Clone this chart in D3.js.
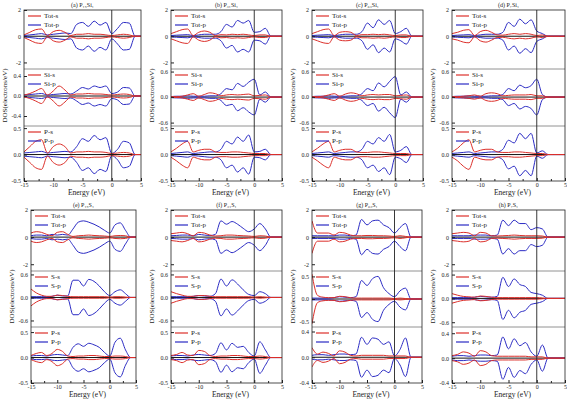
<!DOCTYPE html>
<html>
<head>
<meta charset="utf-8">
<script src="https://cdn.jsdelivr.net/npm/d3@7"></script>
<style>
  body { margin: 0; background: #fff; }
  text { font-family: "Liberation Serif", "Times New Roman", serif; fill: #222; }
</style>
</head>
<body>
<div class="chartContainer"></div>
<script>
// energy grid (eV)
var energy = [-15,-14,-13,-12,-11,-10,-9,-8,-7,-6,-5,-4,-3,-2,-1,0,1,2,3,4,5];

var panelTitles = ['(a) P\u2081\u2085Si\u2081','(b) P\u2083\u2081Si\u2081','(c) P\u2086\u2083Si\u2081','(d) P\u2087Si\u2081',
                   '(e) P\u2081\u2085S\u2081','(f) P\u2083\u2081S\u2081','(g) P\u2086\u2083S\u2081','(h) P\u2087S\u2081'];
var dopant = ['Si','Si','Si','Si','S','S','S','S'];

// total DOS, s and p (one row per panel a..h)
var totS = [
  [0.1,0.3,0.5,0.55,0.05,0.35,0.45,0.3,0.05,0.15,0.15,0.2,0.15,0.15,0.1,0.05,0.1,0.15,0.1,0,0],
  [0.2,0.35,0.5,0.55,0.05,0.3,0.4,0.3,0.05,0.12,0.1,0.15,0.12,0.15,0.1,0.05,0.1,0.1,0,0,0],
  [0.2,0.35,0.5,0.55,0.05,0.3,0.35,0.3,0.05,0.12,0.12,0.15,0.12,0.15,0.1,0.05,0.1,0.1,0,0,0],
  [0.2,0.3,0.45,0.5,0.05,0.35,0.45,0.3,0.1,0.08,0.15,0.2,0.15,0.2,0.15,0.05,0.1,0,0,0,0],
  [0.3,0.4,0.35,0.2,0.1,0.35,0.4,0.2,0.05,0.1,0.12,0.15,0.12,0.1,0.08,0.05,0.1,0.12,0.1,0,0],
  [0.25,0.3,0.35,0.25,0.1,0.35,0.3,0.15,0.08,0.1,0.15,0.15,0.12,0.1,0.08,0.05,0.1,0.08,0,0,0],
  [1.2,0.3,0.3,0.3,0.15,0.35,0.3,0.15,0.1,0.1,0.12,0.12,0.1,0.1,0.08,0.05,0.1,0.05,0,0,0],
  [0.25,0.3,0.35,0.3,0.1,0.35,0.3,0.1,0.08,0.1,0.12,0.15,0.12,0.1,0.1,0.1,0.08,0,0,0,0]
];
var totP = [
  [0.05,0.1,0.15,0.2,0.1,0.15,0.2,0.25,0.2,0.9,1.05,0.75,1.15,0.85,1.05,0.2,0.6,1.05,1.0,0,0],
  [0.05,0.08,0.1,0.12,0.05,0.1,0.15,0.15,0.15,0.35,0.9,0.7,1.2,1.0,1.2,0.3,0.35,0.6,0,0,0],
  [0.05,0.08,0.1,0.12,0.05,0.1,0.15,0.15,0.15,0.35,1.0,0.65,1.25,0.9,1.2,0.2,0.35,0.6,0,0,0],
  [0.05,0.08,0.1,0.12,0.05,0.1,0.15,0.15,0.15,0.3,1.05,0.75,1.3,0.95,1.25,0.4,0.2,0,0,0,0],
  [0.1,0.15,0.15,0.1,0.2,0.15,0.2,0.15,0.6,1.1,1.2,1.1,0.95,0.75,0.5,0.3,0.9,1.05,0.5,0,0],
  [0.1,0.12,0.15,0.15,0.1,0.2,0.15,0.12,0.2,1.2,0.95,1.15,0.95,0.65,0.4,0.6,1.0,0.6,0,0,0],
  [0.1,0.1,0.1,0.1,0.1,0.15,0.15,0.1,0.15,1.3,0.9,1.2,1.25,0.9,0.7,0.3,0.7,1.0,0,0,0],
  [0.1,0.1,0.1,0.1,0.15,0.15,0.15,0.1,0.15,1.25,0.85,1.25,1.0,1.0,0.55,0.7,0.6,0,0,0,0]
];
// dopant atom (Si or S), s and p
var dopS = [
  [0.02,0.05,0.1,0.15,0.02,0.1,0.2,0.12,0.02,0.04,0.04,0.05,0.04,0.04,0.03,0.02,0.03,0.04,0.03,0,0],
  [0.01,0.01,0.02,0.05,0.08,0.02,0.06,0.1,0.08,0.03,0.05,0.06,0.05,0.06,0.07,0.03,0.04,0.05,0,0,0],
  [0.01,0.01,0.02,0.05,0.08,0.02,0.07,0.1,0.08,0.03,0.05,0.06,0.05,0.06,0.06,0.03,0.04,0.05,0,0,0],
  [0.01,0.01,0.02,0.03,0.05,0.02,0.08,0.1,0.08,0.03,0.04,0.05,0.05,0.05,0.06,0.03,0.03,0,0,0,0],
  [0.22,0.12,0.06,0.03,0.03,0.06,0.05,0.03,0.02,0.02,0.02,0.02,0.02,0.02,0.02,0.01,0.02,0.02,0.01,0,0],
  [0.15,0.1,0.06,0.03,0.03,0.05,0.05,0.03,0.02,0.02,0.02,0.02,0.02,0.02,0.02,0.01,0.02,0.01,0,0,0],
  [0.55,0.08,0.04,0.03,0.03,0.06,0.05,0.03,0.02,0.02,0.02,0.02,0.02,0.02,0.02,0.01,0.02,0.01,0,0,0],
  [0.12,0.08,0.05,0.04,0.03,0.06,0.05,0.03,0.02,0.02,0.02,0.02,0.02,0.02,0.02,0.02,0.01,0,0,0,0]
];
var dopP = [
  [0.02,0.03,0.04,0.05,0.02,0.03,0.04,0.05,0.04,0.1,0.17,0.14,0.2,0.17,0.2,0.05,0.08,0.17,0.16,0,0],
  [0.01,0.02,0.02,0.03,0.02,0.02,0.02,0.03,0.03,0.08,0.2,0.17,0.32,0.25,0.35,0.42,0.05,0.12,0,0,0],
  [0.01,0.02,0.02,0.03,0.02,0.02,0.02,0.03,0.03,0.08,0.2,0.15,0.33,0.24,0.37,0.48,0.05,0.12,0,0,0],
  [0.01,0.02,0.02,0.03,0.02,0.02,0.02,0.03,0.03,0.06,0.2,0.15,0.28,0.22,0.27,0.42,0.06,0,0,0,0],
  [0.02,0.02,0.02,0.02,0.03,0.06,0.04,0.04,0.45,0.45,0.3,0.47,0.42,0.3,0.15,0.05,0.15,0.2,0.1,0,0],
  [0.02,0.02,0.02,0.02,0.03,0.05,0.04,0.03,0.1,0.48,0.3,0.46,0.35,0.2,0.08,0.05,0.15,0.1,0,0,0],
  [0.02,0.02,0.02,0.02,0.03,0.05,0.04,0.03,0.05,0.41,0.3,0.45,0.5,0.25,0.12,0.05,0.18,0.24,0,0,0],
  [0.02,0.02,0.02,0.02,0.03,0.05,0.04,0.03,0.05,0.53,0.3,0.49,0.35,0.3,0.15,0.12,0.08,0,0,0,0]
];
// phosphorus atom, s and p
var phS = [
  [0.05,0.15,0.25,0.28,0.03,0.15,0.2,0.15,0.03,0.05,0.05,0.06,0.05,0.05,0.04,0.02,0.03,0.04,0.03,0,0],
  [0.05,0.12,0.2,0.25,0.05,0.08,0.1,0.1,0.05,0.04,0.04,0.05,0.05,0.04,0.03,0.02,0.02,0.02,0,0,0],
  [0.05,0.12,0.2,0.25,0.05,0.08,0.1,0.1,0.05,0.04,0.04,0.05,0.05,0.04,0.03,0.02,0.02,0.02,0,0,0],
  [0.05,0.12,0.22,0.28,0.05,0.08,0.1,0.1,0.05,0.04,0.04,0.05,0.05,0.04,0.03,0.02,0.02,0,0,0,0],
  [0.04,0.08,0.1,0.04,0.08,0.16,0.12,0.03,0.02,0.03,0.03,0.04,0.04,0.03,0.02,0.02,0.03,0.03,0.02,0,0],
  [0.04,0.06,0.1,0.05,0.04,0.14,0.12,0.04,0.02,0.03,0.03,0.04,0.04,0.03,0.02,0.02,0.03,0.02,0,0,0],
  [0.15,0.05,0.08,0.06,0.02,0.1,0.08,0.03,0.02,0.03,0.03,0.03,0.03,0.03,0.02,0.02,0.02,0.02,0,0,0],
  [0.04,0.06,0.1,0.08,0.03,0.12,0.1,0.04,0.03,0.03,0.03,0.03,0.03,0.03,0.02,0.02,0.02,0,0,0,0]
];
var phP = [
  [0.03,0.04,0.05,0.06,0.03,0.04,0.05,0.06,0.05,0.15,0.3,0.25,0.36,0.28,0.32,0.02,0.1,0.25,0.22,0,0],
  [0.02,0.03,0.04,0.05,0.02,0.03,0.04,0.05,0.05,0.1,0.25,0.2,0.33,0.25,0.37,0.05,0.06,0.1,0,0,0],
  [0.02,0.03,0.04,0.05,0.02,0.03,0.04,0.05,0.05,0.1,0.25,0.2,0.32,0.25,0.38,0.05,0.08,0.15,0,0,0],
  [0.02,0.03,0.04,0.05,0.02,0.03,0.04,0.05,0.05,0.1,0.27,0.22,0.4,0.3,0.4,0.03,0.07,0,0,0,0],
  [0.03,0.04,0.04,0.03,0.05,0.06,0.05,0.04,0.2,0.27,0.22,0.28,0.25,0.2,0.1,0.03,0.3,0.38,0.15,0,0],
  [0.03,0.04,0.04,0.03,0.05,0.06,0.05,0.04,0.08,0.29,0.15,0.28,0.2,0.22,0.1,0.03,0.31,0.15,0,0,0],
  [0.03,0.04,0.04,0.03,0.04,0.05,0.05,0.04,0.05,0.31,0.2,0.3,0.28,0.2,0.24,0.02,0.12,0.3,0,0,0],
  [0.03,0.04,0.04,0.03,0.04,0.05,0.05,0.04,0.05,0.34,0.15,0.31,0.2,0.25,0.1,0.03,0.21,0,0,0,0]
];

// y ticks of each sub-panel
var topTicks = [-2, 0, 2];
var midTicks = [[-0.4,0,0.4],[-0.6,0,0.6],[-0.6,0,0.6],[-0.6,0,0.6],[-0.6,0,0.6],[-0.6,0,0.6],[-0.5,0,0.5],[-0.6,0,0.6]];
var botTicks = [[-0.5,0,0.5],[-0.5,0,0.5],[-0.5,0,0.5],[-0.5,0,0.5],[-0.5,0,0.5],[-0.5,0,0.5],[-0.4,0,0.4],[-0.4,0,0.4]];
var xTicks = [-15, -10, -5, 0, 5];
var xMinor = [-12.5, -7.5, -2.5, 2.5];

// y ranges of each sub-panel
var topDomain = [-2.5, 2];
var midDomain = [[-0.6,0.54],[-0.68,0.66],[-0.68,0.66],[-0.68,0.66],[-0.77,0.69],[-0.77,0.69],[-0.62,0.62],[-0.72,0.69]];
var botDomain = [[-0.5,0.54],[-0.5,0.54],[-0.5,0.54],[-0.5,0.54],[-0.5,0.6],[-0.5,0.6],[-0.4,0.47],[-0.4,0.5]];

const red = '#dc2f2a';
const blue = '#2b2bc4';
const tickFont = 6;

const width = 567, height = 399;
// panel boxes
const colX = [[[24,141],[171,282],[312,423],[452,565]], [[31,136],[171,282],[312,422],[452,565]]];
const rowY = [[10,69,126,181], [210,271,327,383]];

const svg = d3.select('.chartContainer').append('svg')
  .attr('width', width).attr('height', height);

function drawPanel(i) {
  const r = Math.floor(i / 4), c = i % 4;
  const x0 = colX[r][c][0], x1 = colX[r][c][1];
  const ys = rowY[r];
  const g = svg.append('g');

  const xScale = d3.scaleLinear().domain([-15, 5]).range([x0, x1]);

  const subs = [
    {dom: topDomain, ticks: topTicks, s: totS[i], p: totP[i], names: ['Tot-s', 'Tot-p'], fmt: d3.format('d')},
    {dom: midDomain[i], ticks: midTicks[i], s: dopS[i], p: dopP[i], names: [dopant[i] + '-s', dopant[i] + '-p'], fmt: d => d.toFixed(1)},
    {dom: botDomain[i], ticks: botTicks[i], s: phS[i], p: phP[i], names: ['P-s', 'P-p'], fmt: d => d.toFixed(1)}
  ];

  subs.forEach(function(sp, k) {
    const yTop = ys[k], yBot = ys[k + 1];
    const yScale = d3.scaleLinear().domain(sp.dom).range([yBot, yTop]);
    const clipId = 'clip' + i + '_' + k;
    g.append('clipPath').attr('id', clipId)
      .append('rect').attr('x', x0).attr('y', yTop).attr('width', x1 - x0).attr('height', yBot - yTop);

    const plot = g.append('g').attr('clip-path', 'url(#' + clipId + ')');
    // zero line
    plot.append('line')
      .attr('x1', x0).attr('x2', x1)
      .attr('y1', yScale(0)).attr('y2', yScale(0))
      .attr('stroke', '#111').attr('stroke-width', 1);

    [[sp.p, blue], [sp.s, red]].forEach(function(ser) {
      [1, -1].forEach(function(sign) {
        const line = d3.line()
          .x((d, j) => xScale(energy[j]))
          .y(d => yScale(sign * d))
          .curve(d3.curveMonotoneX);
        plot.append('path')
          .attr('d', line(ser[0]))
          .attr('fill', 'none')
          .attr('stroke', ser[1])
          .attr('stroke-width', 1);
      });
    });

    // legend
    sp.names.forEach(function(nm, j) {
      const ly = yTop + 6 + j * 9;
      g.append('line')
        .attr('x1', x0 + 4).attr('x2', x0 + 17)
        .attr('y1', ly).attr('y2', ly)
        .attr('stroke', j === 0 ? red : blue).attr('stroke-width', 1.2);
      g.append('text')
        .attr('x', x0 + 20).attr('y', ly)
        .attr('dy', '0.35em')
        .attr('font-size', 7)
        .text(nm);
    });

    // y axis
    const ax = g.append('g')
      .attr('transform', `translate(${x0},0)`)
      .call(d3.axisLeft(yScale).tickValues(sp.ticks).tickFormat(sp.fmt).tickSize(-3).tickPadding(3));
    ax.select('.domain').remove();
    ax.selectAll('line').attr('stroke', '#222');
    ax.selectAll('text').attr('font-size', tickFont).attr('font-family', '"Liberation Serif", serif').attr('fill', '#222')
      .text(d => sp.fmt(d).replace('\u2212', '-'));

    // divider
    if (k > 0) {
      g.append('line')
        .attr('x1', x0).attr('x2', x1).attr('y1', yTop).attr('y2', yTop)
        .attr('stroke', '#777').attr('stroke-width', 0.8);
    }
  });

  // Fermi level line
  g.append('line')
    .attr('x1', xScale(0)).attr('x2', xScale(0))
    .attr('y1', ys[0]).attr('y2', ys[3])
    .attr('stroke', '#222').attr('stroke-width', 0.9);

  // box
  g.append('rect')
    .attr('x', x0).attr('y', ys[0])
    .attr('width', x1 - x0).attr('height', ys[3] - ys[0])
    .attr('fill', 'none').attr('stroke', '#222').attr('stroke-width', 0.8);

  // x axis
  const xa = g.append('g')
    .attr('transform', `translate(0,${ys[3]})`)
    .call(d3.axisBottom(xScale).tickValues(xTicks).tickSize(-3).tickPadding(2).tickFormat(d3.format('d')));
  xa.select('.domain').remove();
  xa.selectAll('line').attr('stroke', '#222');
  xa.selectAll('text').attr('font-size', tickFont).attr('font-family', '"Liberation Serif", serif').attr('fill', '#222')
    .text(d => d < 0 ? '-' + Math.abs(d) : d);
  const xm = g.append('g')
    .attr('transform', `translate(0,${ys[3]})`)
    .call(d3.axisBottom(xScale).tickValues(xMinor).tickSize(-2).tickFormat(''));
  xm.select('.domain').remove();
  xm.selectAll('line').attr('stroke', '#222');

  g.append('text')
    .attr('x', (x0 + x1) / 2 + 4).attr('y', ys[3] + 14)
    .attr('text-anchor', 'middle')
    .attr('font-size', 7.5)
    .text('Energy (eV)');

  g.append('text')
    .attr('transform', `translate(${x0 - 17},${(ys[0] + ys[3]) / 2}) rotate(-90)`)
    .attr('text-anchor', 'middle')
    .attr('font-size', 7)
    .text('DOS(electrons/eV)');

  g.append('text')
    .attr('x', (x0 + x1) / 2).attr('y', ys[0] - 3)
    .attr('text-anchor', 'middle')
    .attr('font-size', 6)
    .text(panelTitles[i]);
}

for (var i = 0; i < 8; i++) {
  drawPanel(i);
}
</script>
</body>
</html>
